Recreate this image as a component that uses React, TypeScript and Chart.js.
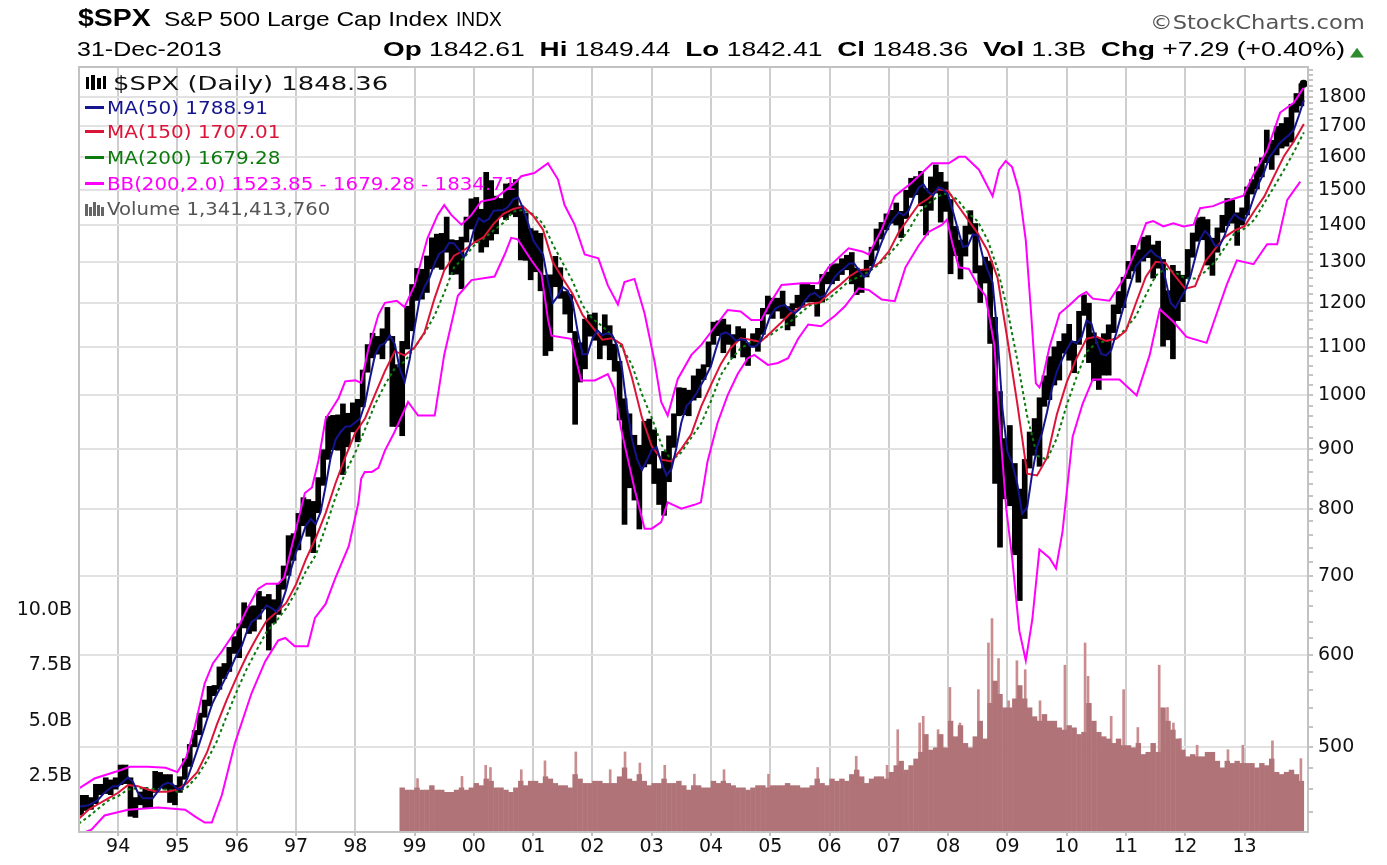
import React, { useEffect, useLayoutEffect, useRef, useState } from 'react';
import { Chart, registerables } from 'chart.js';

Chart.register(...registerables);

// ---------------- DATA ----------------
const X_MIN = 1993.34;
const X_MAX = 2014.07;
const YEAR_TICKS = [1994, 1995, 1996, 1997, 1998, 1999, 2000, 2001, 2002, 2003, 2004, 2005, 2006, 2007, 2008, 2009, 2010, 2011, 2012, 2013];
const PRICE_LABELS = [500, 600, 700, 800, 900, 1000, 1100, 1200, 1300, 1400, 1500, 1600, 1700, 1800];
const VOLUME_TICKS = [2.5, 5, 7.5, 10];

// monthly bars, first month = May 1993
const PRICE_START = 1993 + 4 / 12;
const PRICE_LOW = [
  437, 441, 442, 447, 455, 456, 455, 460,
  464, 465, 436, 435, 446, 443, 443, 457, 461, 460, 448, 446,
  457, 469, 481, 500, 512, 530, 542, 553, 560, 572, 580, 601,
  596, 632, 625, 628, 643, 656, 605, 638, 649, 682, 701, 722,
  737, 773, 757, 733, 793, 837, 881, 898, 897, 855, 903, 930,
  912, 977, 1046, 1076, 1084, 1074, 1114, 940, 940, 923, 1095, 1135,
  1205, 1208, 1224, 1282, 1286, 1281, 1325, 1268, 1269, 1233, 1352, 1387,
  1350, 1325, 1339, 1357, 1374, 1421, 1413, 1428, 1421, 1305, 1304, 1255,
  1275, 1228, 1081, 1091, 1238, 1210, 1173, 1131, 944, 1026, 1053, 1123,
  1114, 1074, 1103, 1072, 1048, 952, 775, 833, 813, 768, 868, 873,
  840, 806, 789, 843, 902, 960, 962, 960, 990, 995, 1031, 1057,
  1105, 1124, 1087, 1105, 1076, 1113, 1078, 1060, 1099, 1090, 1127, 1173,
  1163, 1180, 1163, 1137, 1146, 1188, 1189, 1201, 1202, 1168, 1201, 1245,
  1245, 1253, 1268, 1280, 1245, 1219, 1224, 1262, 1290, 1330, 1360, 1385,
  1403, 1398, 1364, 1416, 1476, 1484, 1452, 1371, 1439, 1489, 1406, 1436,
  1270, 1316, 1257, 1315, 1373, 1272, 1200, 1247, 1107, 840, 741, 815,
  804, 730, 667, 784, 866, 888, 869, 978, 991, 1020, 1030, 1086,
  1071, 1045, 1105, 1170, 1066, 1029, 1011, 1040, 1040, 1131, 1174, 1188,
  1258, 1277, 1249, 1302, 1311, 1259, 1284, 1101, 1115, 1074, 1158, 1202,
  1258, 1312, 1354, 1358, 1292, 1266, 1325, 1378, 1396, 1403, 1343, 1398,
  1426, 1486, 1501, 1537, 1581, 1560, 1605, 1627, 1633, 1646, 1746, 1768,
];
const PRICE_HIGH = [
  455, 455, 453, 465, 465, 471, 469, 471,
  483, 483, 471, 453, 458, 462, 459, 477, 476, 474, 474, 464,
  472, 489, 503, 517, 535, 549, 564, 565, 586, 590, 609, 622,
  638, 665, 660, 661, 680, 673, 676, 669, 691, 715, 759, 762,
  793, 818, 815, 812, 851, 899, 960, 962, 963, 984, 966, 986,
  993, 1052, 1106, 1131, 1124, 1141, 1190, 1124, 1063, 1113, 1193, 1245,
  1285, 1283, 1317, 1365, 1375, 1377, 1422, 1360, 1358, 1367, 1422, 1474,
  1478, 1444, 1553, 1528, 1482, 1475, 1518, 1520, 1531, 1454, 1433, 1390,
  1384, 1377, 1268, 1269, 1316, 1287, 1228, 1221, 1135, 1110, 1163, 1173,
  1177, 1130, 1173, 1148, 1107, 1070, 994, 965, 925, 907, 951, 955,
  935, 866, 896, 924, 965, 1016, 1015, 1011, 1040, 1054, 1063, 1112,
  1156, 1159, 1163, 1150, 1128, 1146, 1141, 1109, 1130, 1142, 1188, 1217,
  1212, 1212, 1229, 1192, 1199, 1219, 1246, 1246, 1243, 1233, 1270, 1276,
  1295, 1297, 1310, 1319, 1326, 1286, 1283, 1306, 1340, 1389, 1407, 1431,
  1441, 1462, 1438, 1499, 1535, 1540, 1556, 1504, 1539, 1576, 1553, 1524,
  1472, 1396, 1359, 1397, 1440, 1404, 1292, 1314, 1304, 1167, 1008, 919,
  943, 875, 832, 882, 931, 956, 996, 1040, 1080, 1101, 1113, 1130,
  1151, 1113, 1181, 1220, 1200, 1132, 1120, 1130, 1150, 1196, 1228, 1263,
  1303, 1345, 1333, 1367, 1371, 1346, 1356, 1308, 1230, 1293, 1278, 1268,
  1334, 1378, 1420, 1422, 1415, 1364, 1392, 1427, 1475, 1471, 1434, 1448,
  1509, 1531, 1570, 1598, 1688, 1654, 1700, 1710, 1730, 1776, 1814, 1849,
];
const LAST_CLOSE: [number, number] = [2013.995, 1848.36];

// moving averages, first value = end of April 1993
const MA_START = 1993 + 4 / 12;
// MA(50): one value per month end
const MA50 = [
  445, 445, 446, 448, 451, 456, 460, 463, 463,
  467, 471, 467, 457, 452, 452, 452, 458, 464, 466, 465, 460,
  461, 470, 483, 497, 512, 528, 544, 555, 565, 576, 587, 600,
  610, 627, 640, 644, 651, 661, 658, 653, 662, 682, 710, 734,
  752, 774, 784, 776, 795, 836, 884, 916, 930, 940, 941, 948,
  956, 985, 1035, 1083, 1103, 1108, 1126, 1106, 1054, 1027, 1073, 1143,
  1207, 1238, 1260, 1295, 1322, 1330, 1351, 1349, 1332, 1313, 1337, 1385,
  1418, 1408, 1415, 1439, 1440, 1441, 1451, 1472, 1477, 1444, 1403, 1358,
  1338, 1320, 1253, 1200, 1216, 1238, 1229, 1202, 1135, 1084, 1085, 1118,
  1137, 1126, 1130, 1126, 1102, 1054, 975, 918, 883, 863, 879, 898,
  903, 875, 854, 865, 902, 948, 979, 989, 1003, 1021, 1039, 1060,
  1096, 1128, 1132, 1126, 1114, 1117, 1115, 1101, 1101, 1112, 1138, 1170,
  1186, 1193, 1195, 1183, 1176, 1186, 1205, 1219, 1224, 1213, 1217, 1239,
  1262, 1275, 1285, 1297, 1297, 1278, 1263, 1272, 1298, 1334, 1368, 1396,
  1417, 1434, 1426, 1439, 1476, 1505, 1516, 1492, 1483, 1507, 1501, 1484,
  1436, 1386, 1340, 1343, 1373, 1370, 1315, 1280, 1249, 1124, 973, 895,
  874, 840, 792, 802, 857, 904, 928, 967, 1013, 1048, 1072, 1094,
  1113, 1108, 1121, 1159, 1152, 1112, 1085, 1082, 1093, 1129, 1170, 1210,
  1249, 1290, 1305, 1318, 1331, 1318, 1311, 1257, 1201, 1188, 1210, 1230,
  1263, 1311, 1360, 1383, 1368, 1343, 1344, 1372, 1410, 1429, 1417, 1411,
  1441, 1483, 1522, 1554, 1598, 1619, 1642, 1657, 1670, 1689, 1736, 1789,
];
// MA(150) and MA(200): one value every two months
const MA150 = [
  434, 442, 447, 452, 457,
  464, 463, 460, 458, 458, 460,
  466, 476, 495, 523, 549, 574,
  598, 620, 641, 652, 664, 689,
  724, 755, 793, 841, 886, 929,
  956, 1002, 1049, 1091, 1082, 1099,
  1132, 1209, 1279, 1317, 1331, 1351,
  1366, 1402, 1430, 1444, 1451, 1425,
  1386, 1300, 1259, 1221, 1172, 1144,
  1116, 1119, 1105, 1036, 958, 905,
  881, 878, 900, 926, 978, 1021,
  1064, 1098, 1119, 1116, 1111, 1131,
  1152, 1175, 1189, 1198, 1201, 1223,
  1242, 1264, 1280, 1282, 1298, 1328,
  1379, 1417, 1456, 1474, 1501, 1496,
  1453, 1414, 1376, 1330, 1261, 1117,
  984, 857, 854, 884, 963, 1026,
  1076, 1118, 1123, 1113, 1118, 1136,
  1199, 1263, 1301, 1298, 1264, 1234,
  1240, 1301, 1334, 1366, 1384, 1396,
  1439, 1480, 1541, 1603, 1650, 1707,
];
const MA200 = [
  430, 436, 443, 450, 454,
  460, 461, 461, 460, 460, 458,
  462, 472, 487, 506, 532, 558,
  583, 605, 627, 641, 657, 679,
  707, 730, 771, 818, 859, 893,
  936, 983, 1021, 1055, 1069, 1099,
  1130, 1169, 1224, 1287, 1312, 1343,
  1362, 1384, 1405, 1437, 1441, 1429,
  1403, 1346, 1298, 1252, 1194, 1163,
  1146, 1124, 1099, 1062, 1003, 957,
  907, 879, 894, 920, 946, 989,
  1041, 1073, 1097, 1110, 1117, 1126,
  1142, 1156, 1175, 1194, 1200, 1211,
  1232, 1253, 1263, 1277, 1294, 1320,
  1349, 1385, 1432, 1459, 1481, 1490,
  1469, 1433, 1409, 1358, 1283, 1184,
  1072, 960, 888, 881, 919, 981,
  1037, 1089, 1109, 1113, 1119, 1141,
  1169, 1218, 1266, 1284, 1274, 1259,
  1259, 1276, 1301, 1338, 1377, 1389,
  1414, 1461, 1509, 1560, 1616, 1679,
];

// Bollinger bands (200, 2.0): [date, value]
const BB_UPPER: [number, number][] = [
  [1993.34, 461], [1993.6, 470], [1994.05, 478], [1994.2, 481], [1994.5, 481], [1994.8, 480], [1995.0, 476],
  [1995.15, 490], [1995.3, 522], [1995.46, 567], [1995.6, 590], [1995.75, 604], [1996.03, 634], [1996.2, 660],
  [1996.36, 683], [1996.5, 690], [1996.7, 690], [1996.8, 698], [1996.93, 743], [1997.15, 825], [1997.27, 834],
  [1997.38, 880], [1997.5, 955], [1997.72, 995], [1997.83, 1028], [1998.0, 1030], [1998.1, 1025], [1998.22, 1095],
  [1998.39, 1172], [1998.5, 1200], [1998.7, 1205], [1998.83, 1190], [1999.0, 1242], [1999.22, 1364], [1999.39, 1427],
  [1999.5, 1455], [1999.62, 1427], [1999.79, 1400], [1999.96, 1427], [2000.12, 1465], [2000.35, 1473], [2000.55, 1500],
  [2000.69, 1520], [2000.8, 1540], [2001.02, 1550], [2001.25, 1580], [2001.42, 1530], [2001.53, 1455], [2001.7, 1400],
  [2001.87, 1320], [2002.1, 1310], [2002.26, 1242], [2002.43, 1196], [2002.54, 1250], [2002.71, 1258], [2002.88, 1175],
  [2003.05, 1068], [2003.16, 987], [2003.27, 961], [2003.44, 1033], [2003.67, 1083], [2003.84, 1105], [2004.0, 1133],
  [2004.28, 1183], [2004.5, 1180], [2004.68, 1160], [2004.85, 1160], [2005.0, 1200], [2005.19, 1243], [2005.53, 1247],
  [2005.81, 1247], [2005.98, 1287], [2006.32, 1336], [2006.55, 1328], [2006.66, 1320], [2006.88, 1387], [2007.1, 1481],
  [2007.39, 1521], [2007.73, 1580], [2008.01, 1580], [2008.18, 1600], [2008.29, 1600], [2008.52, 1560], [2008.75, 1481],
  [2008.86, 1560], [2008.97, 1587], [2009.08, 1568], [2009.2, 1494], [2009.31, 1357], [2009.4, 1175], [2009.48, 1024],
  [2009.54, 1016], [2009.59, 1032], [2009.71, 1100], [2009.88, 1175], [2010.05, 1195], [2010.21, 1216], [2010.33, 1226],
  [2010.44, 1210], [2010.72, 1205], [2010.95, 1255], [2011.18, 1336], [2011.34, 1404], [2011.46, 1410], [2011.63, 1395],
  [2011.8, 1404], [2011.97, 1395], [2012.14, 1400], [2012.25, 1446], [2012.47, 1452], [2012.64, 1464], [2012.87, 1476],
  [2012.98, 1482], [2013.15, 1545], [2013.38, 1620], [2013.6, 1746], [2013.83, 1780], [2014.0, 1835],
];
const BB_LOWER: [number, number][] = [
  [1993.34, 421], [1993.55, 425], [1993.77, 437], [1994.17, 442], [1994.68, 444], [1995.13, 442], [1995.3, 436],
  [1995.46, 431], [1995.58, 431], [1995.75, 455], [1995.97, 504], [1996.25, 556], [1996.48, 592], [1996.7, 617],
  [1996.82, 620], [1996.98, 610], [1997.2, 610], [1997.32, 645], [1997.5, 663], [1997.66, 697], [1997.89, 743],
  [1998.05, 808], [1998.1, 849], [1998.16, 860], [1998.28, 860], [1998.39, 867], [1998.5, 897], [1998.66, 930],
  [1998.89, 987], [1999.06, 961], [1999.34, 961], [1999.5, 1083], [1999.73, 1217], [1999.96, 1255], [2000.35, 1264],
  [2000.52, 1320], [2000.63, 1364], [2000.74, 1360], [2000.97, 1305], [2001.14, 1270], [2001.25, 1162], [2001.31, 1125],
  [2001.64, 1118], [2001.81, 1030], [2002.04, 1030], [2002.26, 1043], [2002.37, 1013], [2002.48, 938], [2002.71, 832],
  [2002.88, 769], [2003.0, 769], [2003.16, 779], [2003.27, 810], [2003.5, 800], [2003.72, 806], [2003.83, 810],
  [2003.94, 877], [2004.11, 947], [2004.28, 1000], [2004.45, 1043], [2004.62, 1076], [2004.73, 1083], [2004.96, 1062],
  [2005.13, 1066], [2005.3, 1076], [2005.47, 1118], [2005.64, 1150], [2005.86, 1146], [2006.09, 1170], [2006.26, 1192],
  [2006.49, 1235], [2006.66, 1231], [2006.88, 1208], [2007.1, 1204], [2007.28, 1287], [2007.5, 1343], [2007.67, 1380],
  [2007.9, 1400], [2007.98, 1414], [2008.07, 1350], [2008.18, 1287], [2008.35, 1283], [2008.52, 1237], [2008.63, 1217],
  [2008.78, 1104], [2008.88, 930], [2008.98, 800], [2009.08, 726], [2009.2, 629], [2009.31, 593], [2009.42, 643],
  [2009.54, 738], [2009.71, 726], [2009.82, 711], [2009.93, 765], [2010.1, 922], [2010.27, 984], [2010.44, 1032],
  [2010.67, 1032], [2010.89, 1032], [2011.18, 1000], [2011.4, 1083], [2011.57, 1185], [2011.8, 1156], [2012.02, 1122],
  [2012.36, 1109], [2012.53, 1175], [2012.7, 1244], [2012.87, 1305], [2013.15, 1295], [2013.38, 1347], [2013.55, 1347],
  [2013.72, 1470], [2013.94, 1524],
];

// volume in billions, monthly, first month = Oct 1998
const VOLUME_START = 1998.75;
const VOLUME = [
  2.0, 1.9, 1.9,
  2.0, 1.9, 1.9, 2.1, 1.9, 1.9, 1.8, 1.8, 1.9, 2.0, 1.9, 2.0,
  2.2, 2.1, 2.4, 2.3, 2.0, 2.0, 1.9, 1.8, 2.0, 2.3, 2.1, 2.3,
  2.3, 2.2, 2.5, 2.4, 2.2, 2.1, 2.1, 2.0, 2.6, 2.4, 2.2, 2.2,
  2.3, 2.3, 2.2, 2.2, 2.2, 2.5, 2.9, 2.4, 2.3, 2.6, 2.3, 2.1,
  2.2, 2.2, 2.4, 2.2, 2.2, 2.3, 2.1, 1.9, 2.1, 2.1, 2.0, 2.0,
  2.3, 2.2, 2.3, 2.2, 2.1, 2.0, 2.0, 1.9, 2.0, 2.1, 2.1, 2.0,
  2.1, 2.1, 2.1, 2.2, 2.1, 2.1, 2.0, 2.0, 2.1, 2.4, 2.2, 2.1,
  2.4, 2.3, 2.4, 2.3, 2.6, 2.8, 2.5, 2.2, 2.4, 2.5, 2.5, 2.4,
  2.7, 3.0, 3.2, 2.8, 3.0, 3.3, 3.6, 4.4, 3.7, 3.8, 4.4, 3.8,
  5.0, 4.3, 4.8, 4.0, 3.8, 4.3, 5.0, 4.2, 5.8, 6.8, 6.2, 5.6,
  5.6, 6.0, 6.6, 6.0, 5.6, 5.2, 5.0, 5.3, 5.0, 5.0, 4.7, 4.6,
  4.8, 4.7, 4.4, 4.5, 5.8, 5.0, 4.5, 4.3, 4.2, 4.0, 4.2, 3.9,
  3.9, 3.8, 4.0, 3.5, 3.6, 4.0, 3.6, 5.6, 5.0, 4.6, 4.2, 3.7,
  3.4, 3.5, 3.4, 3.4, 3.6, 3.6, 3.2, 2.9, 3.2, 3.1, 3.2, 3.1,
  3.1, 3.1, 2.9, 3.1, 3.0, 3.3, 2.7, 2.6, 2.7, 2.8, 2.6, 2.3,
];
// single-day volume spikes: [date, billions]
const VOLUME_SPIKES: [number, number][] = [
  [1999.05, 2.4], [1999.8, 2.5], [2000.2, 3.0], [2000.28, 2.9], [2000.8, 2.8], [2001.2, 3.2], [2001.72, 3.6],
  [2002.3, 2.8], [2002.55, 3.6], [2002.8, 3.1], [2003.22, 3.0], [2003.72, 2.6], [2004.22, 2.8], [2004.97, 2.6],
  [2005.8, 2.9], [2006.45, 3.4], [2006.97, 3.0], [2007.15, 4.6], [2007.52, 4.9], [2007.58, 5.2], [2007.83, 4.6],
  [2008.03, 6.5], [2008.2, 4.9], [2008.51, 6.4], [2008.68, 8.5], [2008.74, 9.6], [2008.85, 7.8], [2009.02, 5.9],
  [2009.16, 7.7], [2009.3, 7.3], [2009.55, 5.9], [2009.97, 7.5], [2010.31, 8.5], [2010.36, 7.0], [2010.75, 5.2],
  [2010.96, 6.4], [2011.2, 4.7], [2011.56, 7.5], [2011.7, 5.6], [2011.8, 4.9], [2011.92, 4.2], [2012.2, 3.9],
  [2012.72, 3.7], [2012.97, 3.9], [2013.47, 4.1], [2013.95, 3.3],
];

// header / legend texts
const TITLE_SYMBOL = '$SPX';
const TITLE_NAME = 'S&P 500 Large Cap Index';
const TITLE_EXCHANGE = 'INDX';
const DATE_TEXT = '31-Dec-2013';
const STATS: [string, string][] = [
  ['Op', '1842.61'], ['Hi', '1849.44'], ['Lo', '1842.41'], ['Cl', '1848.36'], ['Vol', '1.3B'], ['Chg', '+7.29 (+0.40%)'],
];
const LEGEND_PRICE = '$SPX (Daily) 1848.36';
const LEGEND_MA50 = 'MA(50) 1788.91';
const LEGEND_MA150 = 'MA(150) 1707.01';
const LEGEND_MA200 = 'MA(200) 1679.28';
const LEGEND_BB = 'BB(200,2.0) 1523.85 - 1679.28 - 1834.71';
const LEGEND_VOLUME = 'Volume 1,341,413,760';

// ---------------- STYLE ----------------
const BLUE = '#14148f';
const RED = '#dc1438';
const GREEN = '#0c7a0c';
const MAGENTA = '#ff00ff';
const TICK_FONT = { family: 'DejaVu Sans', size: 19 };

type FitProps = {
  x: number; cy: number; w: number; size: number; family: string;
  weight?: number | string; color?: string; children: React.ReactNode;
};

function FitText({ x, cy, w, size, family, weight, color, children }: FitProps) {
  const ref = useRef<HTMLSpanElement>(null);
  const [sx, setSx] = useState(1);
  useLayoutEffect(() => {
    const el = ref.current;
    if (!el) return;
    const nat = el.offsetWidth;
    if (nat > 0) setSx(w / nat);
  }, [w]);
  return (
    <span
      ref={ref}
      style={{
        position: 'absolute', left: x, top: cy - size * 0.49, fontFamily: family, fontSize: size,
        fontWeight: weight ?? 400, color: color ?? '#000', lineHeight: `${size}px`, whiteSpace: 'pre',
        display: 'inline-block', transform: `scaleX(${sx})`, transformOrigin: '0 50%', pointerEvents: 'none',
      }}
    >
      {children}
    </span>
  );
}

function Box({ l, t, w, h, c }: { l: number; t: number; w: number; h: number; c: string }) {
  return <div style={{ position: 'absolute', left: l, top: t, width: w, height: h, background: c }} />;
}

const framePlugin = {
  id: 'frame',
  afterDatasetsDraw(chart: any) {
    const { ctx, chartArea: a } = chart;
    ctx.save();
    ctx.strokeStyle = '#c2c2c2';
    ctx.lineWidth = 2;
    ctx.strokeRect(a.left, a.top, a.right - a.left, a.bottom - a.top);
    ctx.restore();
  },
};

export default function App() {
  const canvasRef = useRef<HTMLCanvasElement>(null);

  useEffect(() => {
    const canvas = canvasRef.current;
    if (!canvas) return;

    const priceBars = PRICE_LOW.map((lo, i) => ({ x: PRICE_START + (i + 0.5) / 12, y: [lo, PRICE_HIGH[i]] }));
    const ma50 = MA50.map((v, i) => ({ x: MA_START + i / 12, y: v }));
    const ma150 = MA150.map((v, i) => ({ x: MA_START + i / 6, y: v }));
    const ma200 = MA200.map((v, i) => ({ x: MA_START + i / 6, y: v }));
    const bbU = BB_UPPER.map(([x, y]) => ({ x, y }));
    const bbL = BB_LOWER.map(([x, y]) => ({ x, y }));
    const vol = VOLUME.map((v, i) => ({ x: VOLUME_START + (i + 0.5) / 12, y: v }));
    const spikes = VOLUME_SPIKES.map(([x, y]) => ({ x, y }));

    const minorTicks: number[] = [];
    for (let v = 440; v <= 1900; v += 20) minorTicks.push(v);

    const lineBase = { type: 'line', xAxisID: 'x', yAxisID: 'y', pointRadius: 0, tension: 0, fill: false };
    const hiddenX = { type: 'linear', min: X_MIN, max: X_MAX, offset: false, display: false };

    const chart = new Chart(canvas, {
      type: 'bar',
      data: {
        datasets: [
          { ...lineBase, label: 'Last', data: [{ x: LAST_CLOSE[0], y: LAST_CLOSE[1] }], showLine: false, pointRadius: 4, pointBackgroundColor: '#000', pointBorderWidth: 0, order: 1 },
          { ...lineBase, label: 'MA(50)', data: ma50, borderColor: BLUE, borderWidth: 2, order: 2 },
          { ...lineBase, label: 'MA(150)', data: ma150, borderColor: RED, borderWidth: 2, order: 3 },
          { ...lineBase, label: 'MA(200)', data: ma200, borderColor: GREEN, borderWidth: 2, borderDash: [3, 3], order: 4 },
          { ...lineBase, label: 'BB upper', data: bbU, borderColor: MAGENTA, borderWidth: 2, order: 5 },
          { ...lineBase, label: 'BB lower', data: bbL, borderColor: MAGENTA, borderWidth: 2, order: 6 },
          { type: 'bar', label: '$SPX', data: priceBars, xAxisID: 'x', yAxisID: 'y', backgroundColor: '#000', categoryPercentage: 1, barPercentage: 1.15, grouped: false, borderWidth: 0, order: 7 },
          { type: 'bar', label: 'Volume', data: vol, xAxisID: 'xv', yAxisID: 'yv', backgroundColor: '#b07377', categoryPercentage: 1, barPercentage: 1.1, grouped: false, borderWidth: 0, order: 9 },
          { type: 'bar', label: 'Volume spikes', data: spikes, xAxisID: 'xs', yAxisID: 'yv', backgroundColor: '#c98d90', barThickness: 2, categoryPercentage: 1, barPercentage: 0.6, grouped: false, borderWidth: 0, order: 10 },
        ] as any,
      },
      options: {
        animation: false,
        responsive: false,
        maintainAspectRatio: false,
        events: [],
        layout: { padding: { top: 67, left: 0, right: 0, bottom: 0 } },
        plugins: { legend: { display: false }, tooltip: { enabled: false }, title: { display: false } },
        scales: {
          x: {
            type: 'linear', min: X_MIN, max: X_MAX, offset: false,
            afterBuildTicks: (s: any) => { s.ticks = YEAR_TICKS.map((v) => ({ value: v })); },
            afterFit: (s: any) => { s.height = 33; },
            ticks: {
              autoSkip: false, maxRotation: 0, minRotation: 0, padding: 0, color: '#111', font: TICK_FONT,
              callback: (v: any) => String(Math.round(Number(v)) % 100).padStart(2, '0'),
            },
            grid: { offset: false, color: '#cecece', lineWidth: 2, tickLength: 4, tickColor: '#c2c2c2' },
            border: { display: false },
          },
          xv: hiddenX,
          xs: hiddenX,
          y: {
            type: 'logarithmic', position: 'right', min: 423, max: 1910,
            afterBuildTicks: (s: any) => { s.ticks = minorTicks.map((v) => ({ value: v })); },
            afterFit: (s: any) => { s.width = 79; },
            ticks: {
              autoSkip: false, padding: 5, color: '#111', font: TICK_FONT,
              callback: (v: any) => (PRICE_LABELS.includes(Number(v)) ? String(v) : ''),
            },
            grid: {
              lineWidth: 2, tickLength: 5, tickColor: '#c4c4c4',
              color: (ctx: any) => (ctx.tick && PRICE_LABELS.includes(ctx.tick.value) ? '#e2e2e2' : 'rgba(0,0,0,0)'),
            },
            border: { display: false },
          },
          yv: {
            type: 'linear', position: 'left', min: 0, max: 34.4,
            afterBuildTicks: (s: any) => { s.ticks = VOLUME_TICKS.map((v) => ({ value: v })); },
            afterFit: (s: any) => { s.width = 79; },
            ticks: { padding: 7, color: '#111', font: TICK_FONT, callback: (v: any) => Number(v).toFixed(1) + 'B' },
            grid: { display: false, drawTicks: false },
            border: { display: false },
          },
        },
      } as any,
      plugins: [framePlugin],
    });
    return () => chart.destroy();
  }, []);

  const AR = 'Liberation Sans';
  const DV = 'DejaVu Sans';

  return (
    <div style={{ position: 'absolute', left: 0, top: 0, width: 1387, height: 865, background: '#fff', overflow: 'hidden' }}>
      <canvas ref={canvasRef} width={1387} height={865} style={{ position: 'absolute', left: 0, top: 0, width: 1387, height: 865 }} />

      {/* header */}
      <FitText x={78} cy={18} w={73} size={23} family={AR} weight={700}>{TITLE_SYMBOL}</FitText>
      <FitText x={164} cy={19} w={284} size={20} family={AR}>{TITLE_NAME}</FitText>
      <FitText x={456} cy={19} w={46} size={20} family={AR}>{TITLE_EXCHANGE}</FitText>
      <FitText x={1150} cy={22} w={215} size={20} family={DV} color="#555">©StockCharts.com</FitText>
      <FitText x={77} cy={49} w={145} size={20} family={AR}>{DATE_TEXT}</FitText>
      <FitText x={383} cy={49} w={962} size={20} family={AR}>
        {STATS.map(([k, v], i) => (
          <React.Fragment key={k}>
            {i > 0 ? '  ' : ''}
            <b style={{ fontSize: 21 }}>{k}</b>
            {' ' + v}
          </React.Fragment>
        ))}
      </FitText>
      <FitText x={1350} cy={51} w={14} size={13} family={DV} color="#2e8b2e">▲</FitText>

      {/* legend */}
      <Box l={86} t={77} w={3} h={12} c="#000" />
      <Box l={91} t={75} w={4} h={15} c="#000" />
      <Box l={97} t={78} w={4} h={11} c="#000" />
      <Box l={103} t={76} w={3} h={13} c="#000" />
      <FitText x={113} cy={83} w={275} size={19} family={DV} color="#111">{LEGEND_PRICE}</FitText>

      <Box l={85} t={106} w={19} h={3} c={BLUE} />
      <FitText x={107} cy={108} w={161} size={18} family={DV} color={BLUE}>{LEGEND_MA50}</FitText>
      <Box l={85} t={130} w={19} h={3} c={RED} />
      <FitText x={107} cy={132} w={173} size={18} family={DV} color={RED}>{LEGEND_MA150}</FitText>
      <Box l={85} t={156} w={19} h={3} c={GREEN} />
      <FitText x={107} cy={158} w={173} size={18} family={DV} color={GREEN}>{LEGEND_MA200}</FitText>
      <Box l={85} t={182} w={19} h={3} c={MAGENTA} />
      <FitText x={107} cy={184} w={409} size={18} family={DV} color={MAGENTA}>{LEGEND_BB}</FitText>

      <Box l={85} t={204} w={3} h={12} c="#666" />
      <Box l={89} t={207} w={3} h={9} c="#666" />
      <Box l={93} t={202} w={3} h={14} c="#666" />
      <Box l={97} t={205} w={3} h={11} c="#666" />
      <Box l={101} t={207} w={3} h={9} c="#666" />
      <FitText x={107} cy={209} w={223} size={18} family={DV} color="#555">{LEGEND_VOLUME}</FitText>
    </div>
  );
}
